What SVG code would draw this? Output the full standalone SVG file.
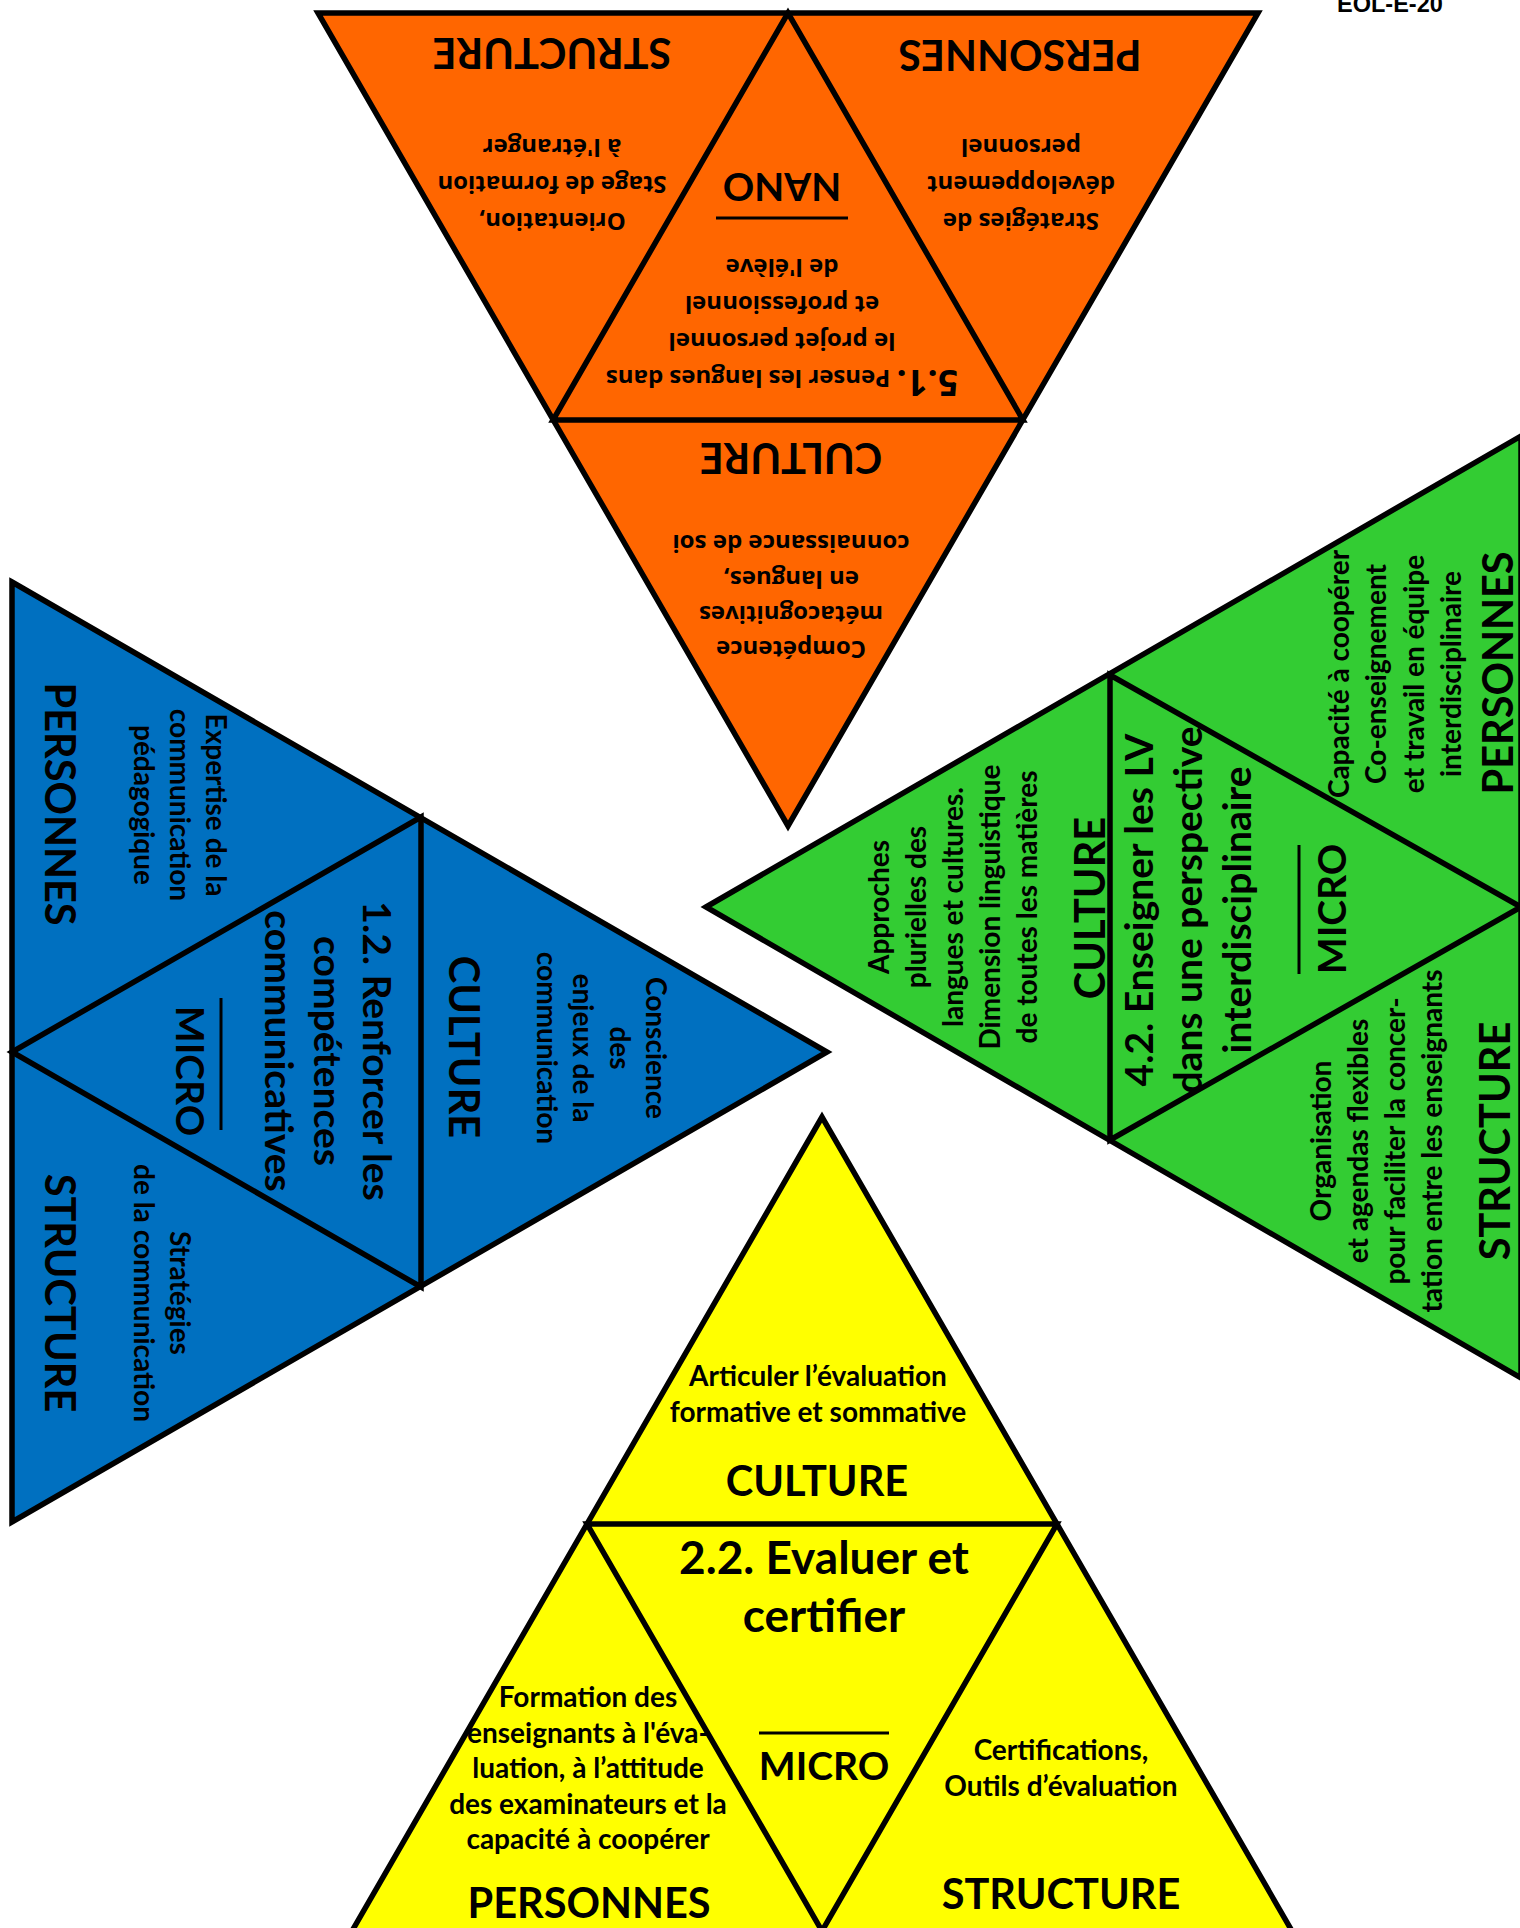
<svg xmlns="http://www.w3.org/2000/svg" width="1520" height="1928" viewBox="0 0 1520 1928">
<style>
.tri{stroke:#000;stroke-width:5.5;stroke-linejoin:miter}
.inner{fill:none;stroke:#000;stroke-width:5.5;stroke-linejoin:miter}
.rule{stroke:#000;stroke-width:3}
text{fill:#000;font-weight:bold;text-anchor:middle}
.h{font-family:Lato,"Liberation Sans",sans-serif;font-size:41.5px}
.m{font-family:Lato,"Liberation Sans",sans-serif;font-size:39px}
.b{font-family:Lato,"Liberation Sans",sans-serif;font-size:28px}
.big{font-family:Lato,"Liberation Sans",sans-serif;font-size:39px}
.ybig{font-family:Lato,"Liberation Sans",sans-serif;font-size:46px}
.o{font-family:"Open Sans","DejaVu Sans",sans-serif;font-size:24px}
.o5{font-family:"Open Sans","DejaVu Sans",sans-serif;font-size:36px}
.ref{font-family:"Liberation Sans",Arial,sans-serif;font-size:23.5px;text-anchor:start}
</style>
<rect width="1520" height="1928" fill="#fff"/>
<text class="ref" x="1337" y="12">EOL-E-20</text>

<g id="orange-5-1">
<polygon class="tri" fill="#FF6600" points="318,13 1258,13 788,826"/>
<polygon class="inner" points="788,13 553,420 1023,420"/>
<line class="rule" x1="716" y1="218" x2="848" y2="218"/>
<g transform="rotate(180)">
<g id="orange-structure">
<text class="h" x="-552" y="-38">STRUCTURE</text>
<text class="o" x="-552" y="-213">Orientation,</text>
<text class="o" x="-552" y="-176">Stage de formation</text>
<text class="o" x="-552" y="-139">à l'étranger</text>
</g>
<g id="orange-personnes">
<text class="h" x="-1020" y="-40">PERSONNES</text>
<text class="o" x="-1021" y="-213">Stratégies de</text>
<text class="o" x="-1021" y="-176">développement</text>
<text class="o" x="-1021" y="-139">personnel</text>
</g>
<g id="orange-nano">
<text class="m" x="-782" y="-173">NANO</text>
<text class="o" x="-782" y="-370"><tspan class="o5">5.1.</tspan> Penser les langues dans</text>
<text class="o" x="-782" y="-333">le projet personnel</text>
<text class="o" x="-782" y="-296">et professionnel</text>
<text class="o" x="-782" y="-259">de l'élève</text>
</g>
<g id="orange-culture">
<text class="h" x="-791" y="-443">CULTURE</text>
<text class="o" x="-791" y="-641">Compétence</text>
<text class="o" x="-791" y="-606">métacognitives</text>
<text class="o" x="-791" y="-571">en langues,</text>
<text class="o" x="-791" y="-535">connaissance de soi</text>
</g>
</g>
</g>

<g id="blue-1-2">
<polygon class="tri" fill="#0070C0" points="12,582 827,1052 12,1522"/>
<polygon class="inner" points="421,817 421,1287 12,1052"/>
<line class="rule" x1="221" y1="998" x2="221" y2="1130"/>
<g transform="rotate(90)">
<g id="blue-personnes">
<text class="h" x="804" y="-45">PERSONNES</text>
<text class="b" x="805" y="-206">Expertise de la</text>
<text class="b" x="805" y="-170">communication</text>
<text class="b" x="805" y="-134">pédagogique</text>
</g>
<g id="blue-structure">
<text class="h" x="1293" y="-45">STRUCTURE</text>
<text class="b" x="1293" y="-170">Stratégies</text>
<text class="b" x="1293" y="-134">de la communication</text>
</g>
<g id="blue-culture">
<text class="h" x="1047" y="-449">CULTURE</text>
<text class="b" x="1048" y="-646">Conscience</text>
<text class="b" x="1048" y="-610">des</text>
<text class="b" x="1048" y="-573">enjeux de la</text>
<text class="b" x="1048" y="-537">communication</text>
</g>
<g id="blue-micro">
<text class="big" x="1051" y="-363">1.2. Renforcer les</text>
<text class="big" x="1051" y="-314">compétences</text>
<text class="big" x="1051" y="-265">communicatives</text>
<text class="m" x="1071" y="-176">MICRO</text>
</g>
</g>
</g>

<g id="green-4-2">
<polygon class="tri" fill="#33CC33" points="706,907 1521,436 1521,1378"/>
<polygon class="inner" points="1110,675 1110,1140 1521,907"/>
<line class="rule" x1="1299" y1="845" x2="1299" y2="974"/>
<g transform="rotate(-90)">
<g id="green-personnes">
<text class="h" x="-673" y="1513">PERSONNES</text>
<text class="b" x="-674" y="1349">Capacité à coopérer</text>
<text class="b" x="-674" y="1386">Co-enseignement</text>
<text class="b" x="-674" y="1424">et travail en équipe</text>
<text class="b" x="-674" y="1461">interdisciplinaire</text>
</g>
<g id="green-structure">
<text class="h" x="-1141" y="1510">STRUCTURE</text>
<text class="b" x="-1141" y="1331">Organisation</text>
<text class="b" x="-1141" y="1368">et agendas flexibles</text>
<text class="b" x="-1141" y="1405">pour faciliter la concer-</text>
<text class="b" x="-1141" y="1442">tation entre les enseignants</text>
</g>
<g id="green-culture">
<text class="h" x="-908" y="1105">CULTURE</text>
<text class="b" x="-907" y="889">Approches</text>
<text class="b" x="-907" y="926">plurielles des</text>
<text class="b" x="-907" y="963">langues et cultures.</text>
<text class="b" x="-907" y="1000">Dimension linguistique</text>
<text class="b" x="-907" y="1037">de toutes les matières</text>
</g>
<g id="green-micro">
<text class="big" x="-910" y="1153">4.2. Enseigner les LV</text>
<text class="big" x="-910" y="1202">dans une perspective</text>
<text class="big" x="-910" y="1251">interdisciplinaire</text>
<text class="m" x="-909" y="1346">MICRO</text>
</g>
</g>
</g>

<g id="yellow-2-2">
<polygon class="tri" fill="#FFFF00" points="822,1117 352,1931 1292,1931"/>
<polygon class="inner" points="587,1524 1057,1524 822,1931"/>
<line class="rule" x1="759" y1="1733" x2="889" y2="1733"/>
<g id="yellow-culture">
<text class="b" x="818" y="1386">Articuler l’évaluation</text>
<text class="b" x="818" y="1422">formative et sommative</text>
<text class="h" x="817" y="1496">CULTURE</text>
</g>
<g id="yellow-micro">
<text class="ybig" x="824" y="1574">2.2. Evaluer et</text>
<text class="ybig" x="824" y="1632">certifier</text>
<text class="m" x="824" y="1780">MICRO</text>
</g>
<g id="yellow-personnes">
<text class="b" x="588" y="1707">Formation des</text>
<text class="b" x="588" y="1743">enseignants à l'éva-</text>
<text class="b" x="588" y="1778">luation, à l’attitude</text>
<text class="b" x="588" y="1814">des examinateurs et la</text>
<text class="b" x="588" y="1849">capacité à coopérer</text>
<text class="h" x="589" y="1918">PERSONNES</text>
</g>
<g id="yellow-structure">
<text class="b" x="1061" y="1760">Certifications,</text>
<text class="b" x="1061" y="1796">Outils d’évaluation</text>
<text class="h" x="1061" y="1909">STRUCTURE</text>
</g>
</g>
</svg>
